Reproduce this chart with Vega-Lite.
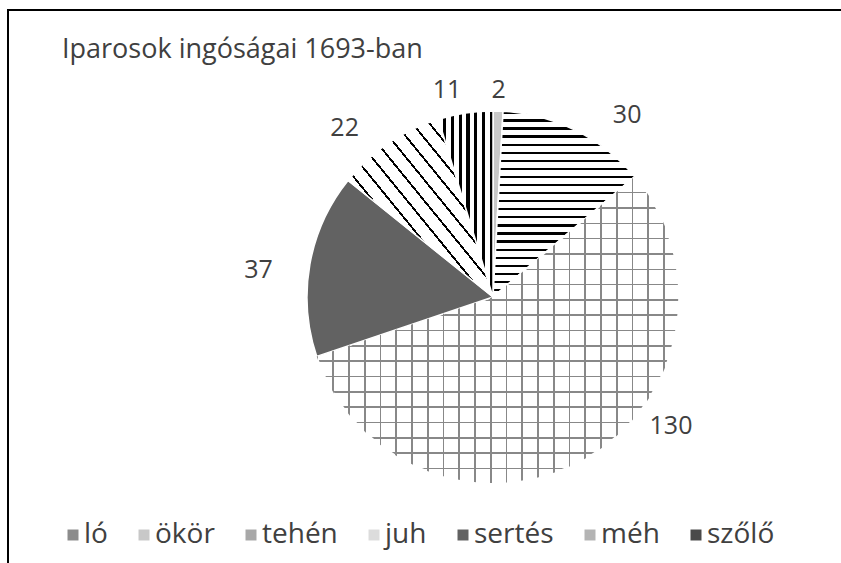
{
  "$schema": "https://vega.github.io/schema/vega-lite/v6.json",
  "width": 970,
  "height": 574,
  "autosize": {"type": "none"},
  "padding": {"left": 8, "top": 10, "right": 0, "bottom": 0},
  "background": "white",
  "title": {
    "text": "Iparosok ingóságai 1693-ban",
    "anchor": "start",
    "frame": "group",
    "offset": 0,
    "dx": 54,
    "dy": 55,
    "font": "Open Sans",
    "fontSize": 27,
    "fontWeight": "normal",
    "color": "#404040"
  },
  "data": {
    "values": [
      {"cat": "ló", "value": 0, "idx": 0},
      {"cat": "ökör", "value": 2, "idx": 1},
      {"cat": "tehén", "value": 30, "idx": 2},
      {"cat": "juh", "value": 130, "idx": 3},
      {"cat": "sertés", "value": 37, "idx": 4},
      {"cat": "méh", "value": 22, "idx": 5},
      {"cat": "szőlő", "value": 11, "idx": 6}
    ]
  },
  "layer": [
    {
      "data": {"values": [{"frame": "border"}]},
      "mark": {"type": "rect", "filled": false, "stroke": "black", "strokeWidth": 2},
      "encoding": {}
    },
    {
      "mark": {"type": "arc", "outerRadius": 186, "stroke": "white", "strokeWidth": 1.5},
      "encoding": {
        "theta": {"field": "value", "type": "quantitative", "stack": true},
        "order": {"field": "idx", "type": "quantitative"},
        "fill": {
          "condition": [
            {"test": "datum.cat === 'tehén'", "value": {"gradient": "linear", "x1": 0, "y1": 0, "x2": 0, "y2": 1, "stops": [
                {"offset": 0, "color": "#000"}, {"offset": 0.012, "color": "#000"}, {"offset": 0.012, "color": "#fff"}, {"offset": 0.0435, "color": "#fff"},
                {"offset": 0.0435, "color": "#000"}, {"offset": 0.0555, "color": "#000"}, {"offset": 0.0555, "color": "#fff"}, {"offset": 0.087, "color": "#fff"},
                {"offset": 0.087, "color": "#000"}, {"offset": 0.099, "color": "#000"}, {"offset": 0.099, "color": "#fff"}, {"offset": 0.1304, "color": "#fff"},
                {"offset": 0.1304, "color": "#000"}, {"offset": 0.1424, "color": "#000"}, {"offset": 0.1424, "color": "#fff"}, {"offset": 0.1739, "color": "#fff"},
                {"offset": 0.1739, "color": "#000"}, {"offset": 0.1859, "color": "#000"}, {"offset": 0.1859, "color": "#fff"}, {"offset": 0.2174, "color": "#fff"},
                {"offset": 0.2174, "color": "#000"}, {"offset": 0.2294, "color": "#000"}, {"offset": 0.2294, "color": "#fff"}, {"offset": 0.2609, "color": "#fff"},
                {"offset": 0.2609, "color": "#000"}, {"offset": 0.2729, "color": "#000"}, {"offset": 0.2729, "color": "#fff"}, {"offset": 0.3043, "color": "#fff"},
                {"offset": 0.3043, "color": "#000"}, {"offset": 0.3163, "color": "#000"}, {"offset": 0.3163, "color": "#fff"}, {"offset": 0.3478, "color": "#fff"},
                {"offset": 0.3478, "color": "#000"}, {"offset": 0.3598, "color": "#000"}, {"offset": 0.3598, "color": "#fff"}, {"offset": 0.3913, "color": "#fff"},
                {"offset": 0.3913, "color": "#000"}, {"offset": 0.4033, "color": "#000"}, {"offset": 0.4033, "color": "#fff"}, {"offset": 0.4348, "color": "#fff"},
                {"offset": 0.4348, "color": "#000"}, {"offset": 0.4468, "color": "#000"}, {"offset": 0.4468, "color": "#fff"}, {"offset": 0.4783, "color": "#fff"},
                {"offset": 0.4783, "color": "#000"}, {"offset": 0.4903, "color": "#000"}, {"offset": 0.4903, "color": "#fff"}, {"offset": 0.5217, "color": "#fff"},
                {"offset": 0.5217, "color": "#000"}, {"offset": 0.5337, "color": "#000"}, {"offset": 0.5337, "color": "#fff"}, {"offset": 0.5652, "color": "#fff"},
                {"offset": 0.5652, "color": "#000"}, {"offset": 0.5772, "color": "#000"}, {"offset": 0.5772, "color": "#fff"}, {"offset": 0.6087, "color": "#fff"},
                {"offset": 0.6087, "color": "#000"}, {"offset": 0.6207, "color": "#000"}, {"offset": 0.6207, "color": "#fff"}, {"offset": 0.6522, "color": "#fff"},
                {"offset": 0.6522, "color": "#000"}, {"offset": 0.6642, "color": "#000"}, {"offset": 0.6642, "color": "#fff"}, {"offset": 0.6957, "color": "#fff"},
                {"offset": 0.6957, "color": "#000"}, {"offset": 0.7077, "color": "#000"}, {"offset": 0.7077, "color": "#fff"}, {"offset": 0.7391, "color": "#fff"},
                {"offset": 0.7391, "color": "#000"}, {"offset": 0.7511, "color": "#000"}, {"offset": 0.7511, "color": "#fff"}, {"offset": 0.7826, "color": "#fff"},
                {"offset": 0.7826, "color": "#000"}, {"offset": 0.7946, "color": "#000"}, {"offset": 0.7946, "color": "#fff"}, {"offset": 0.8261, "color": "#fff"},
                {"offset": 0.8261, "color": "#000"}, {"offset": 0.8381, "color": "#000"}, {"offset": 0.8381, "color": "#fff"}, {"offset": 0.8696, "color": "#fff"},
                {"offset": 0.8696, "color": "#000"}, {"offset": 0.8816, "color": "#000"}, {"offset": 0.8816, "color": "#fff"}, {"offset": 0.913, "color": "#fff"},
                {"offset": 0.913, "color": "#000"}, {"offset": 0.925, "color": "#000"}, {"offset": 0.925, "color": "#fff"}, {"offset": 0.9565, "color": "#fff"},
                {"offset": 0.9565, "color": "#000"}, {"offset": 0.9685, "color": "#000"}, {"offset": 0.9685, "color": "#fff"}, {"offset": 1, "color": "#fff"}
              ]}},
            {"test": "datum.cat === 'juh'", "value": {"gradient": "linear", "x1": 0, "y1": 0, "x2": 0, "y2": 1, "stops": [
                {"offset": 0, "color": "#888"}, {"offset": 0.005, "color": "#888"}, {"offset": 0.005, "color": "#fff"}, {"offset": 0.05, "color": "#fff"},
                {"offset": 0.05, "color": "#888"}, {"offset": 0.055, "color": "#888"}, {"offset": 0.055, "color": "#fff"}, {"offset": 0.1, "color": "#fff"},
                {"offset": 0.1, "color": "#888"}, {"offset": 0.105, "color": "#888"}, {"offset": 0.105, "color": "#fff"}, {"offset": 0.15, "color": "#fff"},
                {"offset": 0.15, "color": "#888"}, {"offset": 0.155, "color": "#888"}, {"offset": 0.155, "color": "#fff"}, {"offset": 0.2, "color": "#fff"},
                {"offset": 0.2, "color": "#888"}, {"offset": 0.205, "color": "#888"}, {"offset": 0.205, "color": "#fff"}, {"offset": 0.25, "color": "#fff"},
                {"offset": 0.25, "color": "#888"}, {"offset": 0.255, "color": "#888"}, {"offset": 0.255, "color": "#fff"}, {"offset": 0.3, "color": "#fff"},
                {"offset": 0.3, "color": "#888"}, {"offset": 0.305, "color": "#888"}, {"offset": 0.305, "color": "#fff"}, {"offset": 0.35, "color": "#fff"},
                {"offset": 0.35, "color": "#888"}, {"offset": 0.355, "color": "#888"}, {"offset": 0.355, "color": "#fff"}, {"offset": 0.4, "color": "#fff"},
                {"offset": 0.4, "color": "#888"}, {"offset": 0.405, "color": "#888"}, {"offset": 0.405, "color": "#fff"}, {"offset": 0.45, "color": "#fff"},
                {"offset": 0.45, "color": "#888"}, {"offset": 0.455, "color": "#888"}, {"offset": 0.455, "color": "#fff"}, {"offset": 0.5, "color": "#fff"},
                {"offset": 0.5, "color": "#888"}, {"offset": 0.505, "color": "#888"}, {"offset": 0.505, "color": "#fff"}, {"offset": 0.55, "color": "#fff"},
                {"offset": 0.55, "color": "#888"}, {"offset": 0.555, "color": "#888"}, {"offset": 0.555, "color": "#fff"}, {"offset": 0.6, "color": "#fff"},
                {"offset": 0.6, "color": "#888"}, {"offset": 0.605, "color": "#888"}, {"offset": 0.605, "color": "#fff"}, {"offset": 0.65, "color": "#fff"},
                {"offset": 0.65, "color": "#888"}, {"offset": 0.655, "color": "#888"}, {"offset": 0.655, "color": "#fff"}, {"offset": 0.7, "color": "#fff"},
                {"offset": 0.7, "color": "#888"}, {"offset": 0.705, "color": "#888"}, {"offset": 0.705, "color": "#fff"}, {"offset": 0.75, "color": "#fff"},
                {"offset": 0.75, "color": "#888"}, {"offset": 0.755, "color": "#888"}, {"offset": 0.755, "color": "#fff"}, {"offset": 0.8, "color": "#fff"},
                {"offset": 0.8, "color": "#888"}, {"offset": 0.805, "color": "#888"}, {"offset": 0.805, "color": "#fff"}, {"offset": 0.85, "color": "#fff"},
                {"offset": 0.85, "color": "#888"}, {"offset": 0.855, "color": "#888"}, {"offset": 0.855, "color": "#fff"}, {"offset": 0.9, "color": "#fff"},
                {"offset": 0.9, "color": "#888"}, {"offset": 0.905, "color": "#888"}, {"offset": 0.905, "color": "#fff"}, {"offset": 0.95, "color": "#fff"},
                {"offset": 0.95, "color": "#888"}, {"offset": 0.955, "color": "#888"}, {"offset": 0.955, "color": "#fff"}, {"offset": 1, "color": "#fff"}
              ]}},
            {"test": "datum.cat === 'méh'", "value": {"gradient": "linear", "x1": 0, "y1": 1, "x2": 1, "y2": 0, "stops": [
                {"offset": 0, "color": "#000"}, {"offset": 0.0085, "color": "#000"}, {"offset": 0.0085, "color": "#fff"}, {"offset": 0.0588, "color": "#fff"},
                {"offset": 0.0588, "color": "#000"}, {"offset": 0.0673, "color": "#000"}, {"offset": 0.0673, "color": "#fff"}, {"offset": 0.1176, "color": "#fff"},
                {"offset": 0.1176, "color": "#000"}, {"offset": 0.1261, "color": "#000"}, {"offset": 0.1261, "color": "#fff"}, {"offset": 0.1765, "color": "#fff"},
                {"offset": 0.1765, "color": "#000"}, {"offset": 0.185, "color": "#000"}, {"offset": 0.185, "color": "#fff"}, {"offset": 0.2353, "color": "#fff"},
                {"offset": 0.2353, "color": "#000"}, {"offset": 0.2438, "color": "#000"}, {"offset": 0.2438, "color": "#fff"}, {"offset": 0.2941, "color": "#fff"},
                {"offset": 0.2941, "color": "#000"}, {"offset": 0.3026, "color": "#000"}, {"offset": 0.3026, "color": "#fff"}, {"offset": 0.3529, "color": "#fff"},
                {"offset": 0.3529, "color": "#000"}, {"offset": 0.3614, "color": "#000"}, {"offset": 0.3614, "color": "#fff"}, {"offset": 0.4118, "color": "#fff"},
                {"offset": 0.4118, "color": "#000"}, {"offset": 0.4203, "color": "#000"}, {"offset": 0.4203, "color": "#fff"}, {"offset": 0.4706, "color": "#fff"},
                {"offset": 0.4706, "color": "#000"}, {"offset": 0.4791, "color": "#000"}, {"offset": 0.4791, "color": "#fff"}, {"offset": 0.5294, "color": "#fff"},
                {"offset": 0.5294, "color": "#000"}, {"offset": 0.5379, "color": "#000"}, {"offset": 0.5379, "color": "#fff"}, {"offset": 0.5882, "color": "#fff"},
                {"offset": 0.5882, "color": "#000"}, {"offset": 0.5967, "color": "#000"}, {"offset": 0.5967, "color": "#fff"}, {"offset": 0.6471, "color": "#fff"},
                {"offset": 0.6471, "color": "#000"}, {"offset": 0.6556, "color": "#000"}, {"offset": 0.6556, "color": "#fff"}, {"offset": 0.7059, "color": "#fff"},
                {"offset": 0.7059, "color": "#000"}, {"offset": 0.7144, "color": "#000"}, {"offset": 0.7144, "color": "#fff"}, {"offset": 0.7647, "color": "#fff"},
                {"offset": 0.7647, "color": "#000"}, {"offset": 0.7732, "color": "#000"}, {"offset": 0.7732, "color": "#fff"}, {"offset": 0.8235, "color": "#fff"},
                {"offset": 0.8235, "color": "#000"}, {"offset": 0.832, "color": "#000"}, {"offset": 0.832, "color": "#fff"}, {"offset": 0.8824, "color": "#fff"},
                {"offset": 0.8824, "color": "#000"}, {"offset": 0.8909, "color": "#000"}, {"offset": 0.8909, "color": "#fff"}, {"offset": 0.9412, "color": "#fff"},
                {"offset": 0.9412, "color": "#000"}, {"offset": 0.9497, "color": "#000"}, {"offset": 0.9497, "color": "#fff"}, {"offset": 1, "color": "#fff"}
              ]}},
            {"test": "datum.cat === 'szőlő'", "value": {"gradient": "linear", "x1": 0, "y1": 0, "x2": 1, "y2": 0, "stops": [
                {"offset": 0, "color": "#fff"}, {"offset": 0.0829, "color": "#fff"}, {"offset": 0.0829, "color": "#000"}, {"offset": 0.1429, "color": "#000"},
                {"offset": 0.1429, "color": "#fff"}, {"offset": 0.2257, "color": "#fff"}, {"offset": 0.2257, "color": "#000"}, {"offset": 0.2857, "color": "#000"},
                {"offset": 0.2857, "color": "#fff"}, {"offset": 0.3686, "color": "#fff"}, {"offset": 0.3686, "color": "#000"}, {"offset": 0.4286, "color": "#000"},
                {"offset": 0.4286, "color": "#fff"}, {"offset": 0.5114, "color": "#fff"}, {"offset": 0.5114, "color": "#000"}, {"offset": 0.5714, "color": "#000"},
                {"offset": 0.5714, "color": "#fff"}, {"offset": 0.6543, "color": "#fff"}, {"offset": 0.6543, "color": "#000"}, {"offset": 0.7143, "color": "#000"},
                {"offset": 0.7143, "color": "#fff"}, {"offset": 0.7971, "color": "#fff"}, {"offset": 0.7971, "color": "#000"}, {"offset": 0.8571, "color": "#000"},
                {"offset": 0.8571, "color": "#fff"}, {"offset": 0.94, "color": "#fff"}, {"offset": 0.94, "color": "#000"}, {"offset": 1, "color": "#000"}
              ]}}
          ],
          "field": "cat",
          "type": "nominal",
          "scale": {
            "domain": ["ló", "ökör", "tehén", "juh", "sertés", "méh", "szőlő"],
            "range": ["#8c8c8c", "#c8c8c8", "#a8a8a8", "#dcdcdc", "#626262", "#b4b4b4", "#4a4a4a"]
          },
          "legend": {
            "orient": "none",
            "legendX": 51,
            "legendY": 511,
            "direction": "horizontal",
            "gridAlign": "each",
            "title": null,
            "padding": 0,
            "symbolType": "square",
            "symbolSize": 121,
            "symbolStrokeWidth": 0,
            "labelFont": "Open Sans",
            "labelFontSize": 28,
            "labelColor": "#404040",
            "labelOffset": -3,
            "columnPadding": 22
          }
        }
      }
    },
    {
      "mark": {"type": "arc", "outerRadius": 186},
      "encoding": {
        "theta": {"field": "value", "type": "quantitative", "stack": true},
        "order": {"field": "idx", "type": "quantitative"},
        "fill": {
          "condition": {
            "test": "datum.cat === 'juh'",
            "value": {"gradient": "linear", "x1": 0, "y1": 0, "x2": 1, "y2": 0, "stops": [
              {"offset": 0, "color": "#888"}, {"offset": 0.0043, "color": "#888"}, {"offset": 0.0043, "color": "rgba(255,255,255,0)"}, {"offset": 0.0435, "color": "rgba(255,255,255,0)"},
              {"offset": 0.0435, "color": "#888"}, {"offset": 0.0478, "color": "#888"}, {"offset": 0.0478, "color": "rgba(255,255,255,0)"}, {"offset": 0.087, "color": "rgba(255,255,255,0)"},
              {"offset": 0.087, "color": "#888"}, {"offset": 0.0913, "color": "#888"}, {"offset": 0.0913, "color": "rgba(255,255,255,0)"}, {"offset": 0.1304, "color": "rgba(255,255,255,0)"},
              {"offset": 0.1304, "color": "#888"}, {"offset": 0.1348, "color": "#888"}, {"offset": 0.1348, "color": "rgba(255,255,255,0)"}, {"offset": 0.1739, "color": "rgba(255,255,255,0)"},
              {"offset": 0.1739, "color": "#888"}, {"offset": 0.1783, "color": "#888"}, {"offset": 0.1783, "color": "rgba(255,255,255,0)"}, {"offset": 0.2174, "color": "rgba(255,255,255,0)"},
              {"offset": 0.2174, "color": "#888"}, {"offset": 0.2217, "color": "#888"}, {"offset": 0.2217, "color": "rgba(255,255,255,0)"}, {"offset": 0.2609, "color": "rgba(255,255,255,0)"},
              {"offset": 0.2609, "color": "#888"}, {"offset": 0.2652, "color": "#888"}, {"offset": 0.2652, "color": "rgba(255,255,255,0)"}, {"offset": 0.3043, "color": "rgba(255,255,255,0)"},
              {"offset": 0.3043, "color": "#888"}, {"offset": 0.3087, "color": "#888"}, {"offset": 0.3087, "color": "rgba(255,255,255,0)"}, {"offset": 0.3478, "color": "rgba(255,255,255,0)"},
              {"offset": 0.3478, "color": "#888"}, {"offset": 0.3522, "color": "#888"}, {"offset": 0.3522, "color": "rgba(255,255,255,0)"}, {"offset": 0.3913, "color": "rgba(255,255,255,0)"},
              {"offset": 0.3913, "color": "#888"}, {"offset": 0.3957, "color": "#888"}, {"offset": 0.3957, "color": "rgba(255,255,255,0)"}, {"offset": 0.4348, "color": "rgba(255,255,255,0)"},
              {"offset": 0.4348, "color": "#888"}, {"offset": 0.4391, "color": "#888"}, {"offset": 0.4391, "color": "rgba(255,255,255,0)"}, {"offset": 0.4783, "color": "rgba(255,255,255,0)"},
              {"offset": 0.4783, "color": "#888"}, {"offset": 0.4826, "color": "#888"}, {"offset": 0.4826, "color": "rgba(255,255,255,0)"}, {"offset": 0.5217, "color": "rgba(255,255,255,0)"},
              {"offset": 0.5217, "color": "#888"}, {"offset": 0.5261, "color": "#888"}, {"offset": 0.5261, "color": "rgba(255,255,255,0)"}, {"offset": 0.5652, "color": "rgba(255,255,255,0)"},
              {"offset": 0.5652, "color": "#888"}, {"offset": 0.5696, "color": "#888"}, {"offset": 0.5696, "color": "rgba(255,255,255,0)"}, {"offset": 0.6087, "color": "rgba(255,255,255,0)"},
              {"offset": 0.6087, "color": "#888"}, {"offset": 0.613, "color": "#888"}, {"offset": 0.613, "color": "rgba(255,255,255,0)"}, {"offset": 0.6522, "color": "rgba(255,255,255,0)"},
              {"offset": 0.6522, "color": "#888"}, {"offset": 0.6565, "color": "#888"}, {"offset": 0.6565, "color": "rgba(255,255,255,0)"}, {"offset": 0.6957, "color": "rgba(255,255,255,0)"},
              {"offset": 0.6957, "color": "#888"}, {"offset": 0.7, "color": "#888"}, {"offset": 0.7, "color": "rgba(255,255,255,0)"}, {"offset": 0.7391, "color": "rgba(255,255,255,0)"},
              {"offset": 0.7391, "color": "#888"}, {"offset": 0.7435, "color": "#888"}, {"offset": 0.7435, "color": "rgba(255,255,255,0)"}, {"offset": 0.7826, "color": "rgba(255,255,255,0)"},
              {"offset": 0.7826, "color": "#888"}, {"offset": 0.787, "color": "#888"}, {"offset": 0.787, "color": "rgba(255,255,255,0)"}, {"offset": 0.8261, "color": "rgba(255,255,255,0)"},
              {"offset": 0.8261, "color": "#888"}, {"offset": 0.8304, "color": "#888"}, {"offset": 0.8304, "color": "rgba(255,255,255,0)"}, {"offset": 0.8696, "color": "rgba(255,255,255,0)"},
              {"offset": 0.8696, "color": "#888"}, {"offset": 0.8739, "color": "#888"}, {"offset": 0.8739, "color": "rgba(255,255,255,0)"}, {"offset": 0.913, "color": "rgba(255,255,255,0)"},
              {"offset": 0.913, "color": "#888"}, {"offset": 0.9174, "color": "#888"}, {"offset": 0.9174, "color": "rgba(255,255,255,0)"}, {"offset": 0.9565, "color": "rgba(255,255,255,0)"},
              {"offset": 0.9565, "color": "#888"}, {"offset": 0.9609, "color": "#888"}, {"offset": 0.9609, "color": "rgba(255,255,255,0)"}, {"offset": 1, "color": "rgba(255,255,255,0)"}
            ]}
          },
          "value": "rgba(255,255,255,0)"
        }
      }
    },
    {
      "mark": {"type": "text", "radius": 207, "font": "Open Sans", "fontSize": 25, "color": "#404040"},
      "encoding": {
        "theta": {"field": "value", "type": "quantitative", "stack": true},
        "order": {"field": "idx", "type": "quantitative"},
        "text": {"condition": {"test": "datum.cat === 'ökör'", "field": "value", "type": "quantitative"}, "value": ""}
      }
    },
    {
      "mark": {"type": "text", "radius": 226, "thetaOffset": 0.175, "font": "Open Sans", "fontSize": 25, "color": "#404040"},
      "encoding": {
        "theta": {"field": "value", "type": "quantitative", "stack": true},
        "order": {"field": "idx", "type": "quantitative"},
        "text": {"condition": {"test": "datum.cat === 'tehén'", "field": "value", "type": "quantitative"}, "value": ""}
      }
    },
    {
      "mark": {"type": "text", "radius": 220, "thetaOffset": -0.428, "font": "Open Sans", "fontSize": 25, "color": "#404040"},
      "encoding": {
        "theta": {"field": "value", "type": "quantitative", "stack": true},
        "order": {"field": "idx", "type": "quantitative"},
        "text": {"condition": {"test": "datum.cat === 'juh'", "field": "value", "type": "quantitative"}, "value": ""}
      }
    },
    {
      "mark": {"type": "text", "radius": 236, "thetaOffset": -0.061, "font": "Open Sans", "fontSize": 25, "color": "#404040"},
      "encoding": {
        "theta": {"field": "value", "type": "quantitative", "stack": true},
        "order": {"field": "idx", "type": "quantitative"},
        "text": {"condition": {"test": "datum.cat === 'sertés'", "field": "value", "type": "quantitative"}, "value": ""}
      }
    },
    {
      "mark": {"type": "text", "radius": 225, "thetaOffset": -0.124, "font": "Open Sans", "fontSize": 25, "color": "#404040"},
      "encoding": {
        "theta": {"field": "value", "type": "quantitative", "stack": true},
        "order": {"field": "idx", "type": "quantitative"},
        "text": {"condition": {"test": "datum.cat === 'méh'", "field": "value", "type": "quantitative"}, "value": ""}
      }
    },
    {
      "mark": {"type": "text", "radius": 212, "thetaOffset": -0.07, "font": "Open Sans", "fontSize": 25, "color": "#404040"},
      "encoding": {
        "theta": {"field": "value", "type": "quantitative", "stack": true},
        "order": {"field": "idx", "type": "quantitative"},
        "text": {"condition": {"test": "datum.cat === 'szőlő'", "field": "value", "type": "quantitative"}, "value": ""}
      }
    }
  ],
  "config": {
    "view": {"stroke": null}
  }
}
